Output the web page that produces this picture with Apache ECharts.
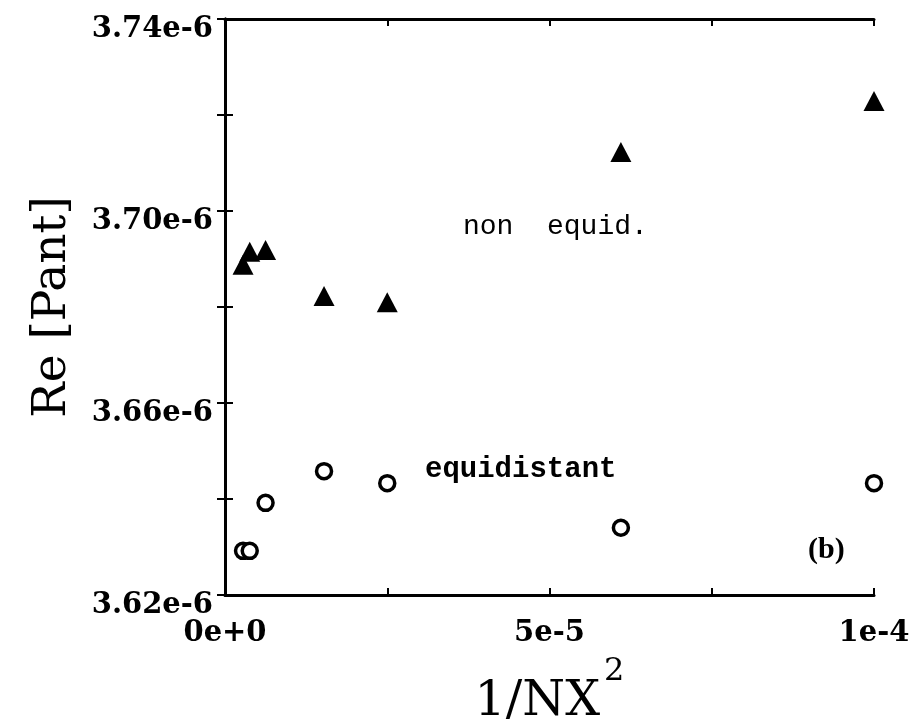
<!DOCTYPE html>
<html>
<head>
<meta charset="utf-8">
<script src="https://cdn.jsdelivr.net/npm/echarts@6/dist/echarts.min.js"></script>
<style>html,body{margin:0;padding:0;background:#fff;}#c{width:917px;height:725px;}</style>
</head>
<body>
<div id="c"></div>
<script>
// 1/NX^2 values
const xValues = [2.78e-6, 3.81e-6, 6.25e-6, 1.526e-5, 2.5e-5, 6.1e-5, 1.0e-4];
// Re [Pant], non equidistant grid (triangles)
const nonEquid = [3.6888e-6, 3.6915e-6, 3.6919e-6, 3.6823e-6, 3.6810e-6, 3.7123e-6, 3.7229e-6];
// Re [Pant], equidistant grid (circles)
const equid = [3.6292e-6, 3.6292e-6, 3.6392e-6, 3.6458e-6, 3.6433e-6, 3.6340e-6, 3.6433e-6];
// tick labels
const xTickLabels = ['0e+0', '', '5e-5', '', '1e-4'];
const yTickLabels = ['3.62e-6', '', '3.66e-6', '', '3.70e-6', '', '3.74e-6'];

const X_MIN = 0, X_MAX = 1e-4, X_INT = 2.5e-5;
const Y_MIN = 3.62e-6, Y_MAX = 3.74e-6, Y_INT = 0.02e-6;

const chart = echarts.init(document.getElementById('c'), null, {renderer: 'canvas'});
const serif = 'DejaVu Serif';
const axisLine = {show: true, lineStyle: {color: '#000', width: 3}};

function pair(xs, ys) { return xs.map((x, i) => [x, ys[i]]); }

chart.setOption({
  animation: false,
  backgroundColor: '#fff',
  grid: {left: 225, right: 43, top: 19, bottom: 130, containLabel: false, outerBoundsMode: 'none'},
  xAxis: [{
    type: 'value', min: X_MIN, max: X_MAX, interval: X_INT, position: 'bottom',
    axisLine: axisLine,
    axisTick: {show: true, inside: true, length: 7, lineStyle: {color: '#000', width: 2}},
    splitLine: {show: false},
    axisLabel: {
      show: true, margin: 24, color: '#000', fontFamily: serif, fontSize: 29, fontWeight: 'bold',
      formatter: v => xTickLabels[Math.round((v - X_MIN) / X_INT)] || ''
    },
    name: '1/NX{sup|2}', nameLocation: 'middle', nameGap: 61,
    nameTextStyle: {
      color: '#000', fontFamily: serif, fontSize: 49,
      rich: {
        sup: {fontFamily: serif, fontSize: 32, verticalAlign: 'top', padding: [0, 0, 60, 4], color: '#000'}
      }
    }
  }, {
    type: 'value', min: X_MIN, max: X_MAX, interval: X_INT, position: 'top',
    axisLine: axisLine,
    axisTick: {show: true, inside: true, length: 7, lineStyle: {color: '#000', width: 2}},
    splitLine: {show: false}, axisLabel: {show: false}
  }],
  yAxis: [{
    type: 'value', min: Y_MIN, max: Y_MAX, interval: Y_INT, position: 'left',
    axisLine: axisLine,
    axisTick: {show: true, inside: true, length: 8, lineStyle: {color: '#000', width: 2}},
    splitLine: {show: false},
    axisLabel: {
      show: true, margin: 12, color: '#000', fontFamily: serif, fontSize: 29, fontWeight: 'bold',
      verticalAlign: 'top', lineHeight: 20,
      formatter: v => yTickLabels[Math.round((v - Y_MIN) / Y_INT)] || ''
    },
    name: 'Re [Pant]', nameLocation: 'middle', nameGap: 149, nameRotate: 90,
    nameTextStyle: {color: '#000', fontFamily: serif, fontSize: 47}
  }, {
    type: 'value', min: Y_MIN, max: Y_MAX, interval: Y_INT, position: 'right',
    axisLine: axisLine,
    axisTick: {show: true, inside: true, length: 8, lineStyle: {color: '#000', width: 2}},
    splitLine: {show: false}, axisLabel: {show: false}
  }],
  series: [{
    name: 'non equid.', type: 'scatter', xAxisIndex: 0, yAxisIndex: 0,
    data: pair(xValues, nonEquid),
    symbol: 'triangle', symbolSize: [21, 20],
    itemStyle: {color: '#000', opacity: 1}, z: 5
  }, {
    name: 'equidistant', type: 'scatter', xAxisIndex: 0, yAxisIndex: 0,
    data: pair(xValues, equid),
    symbol: 'circle', symbolSize: 15,
    itemStyle: {color: '#fff', borderColor: '#000', borderWidth: 3.5, opacity: 1}, z: 5
  }],
  graphic: [
    {type: 'text', left: 463, top: 213, style: {text: 'non  equid.', fontFamily: 'Liberation Mono', fontSize: 28, fill: '#000'}},
    {type: 'text', left: 425, top: 455, style: {text: 'equidistant', fontFamily: 'Liberation Mono', fontWeight: 'bold', fontSize: 29, fill: '#000'}},
    {type: 'text', left: 808, top: 535, style: {text: '(b)', fontFamily: 'Liberation Serif', fontWeight: 'bold', fontSize: 30, fill: '#000'}}
  ]
});
</script>
</body>
</html>
